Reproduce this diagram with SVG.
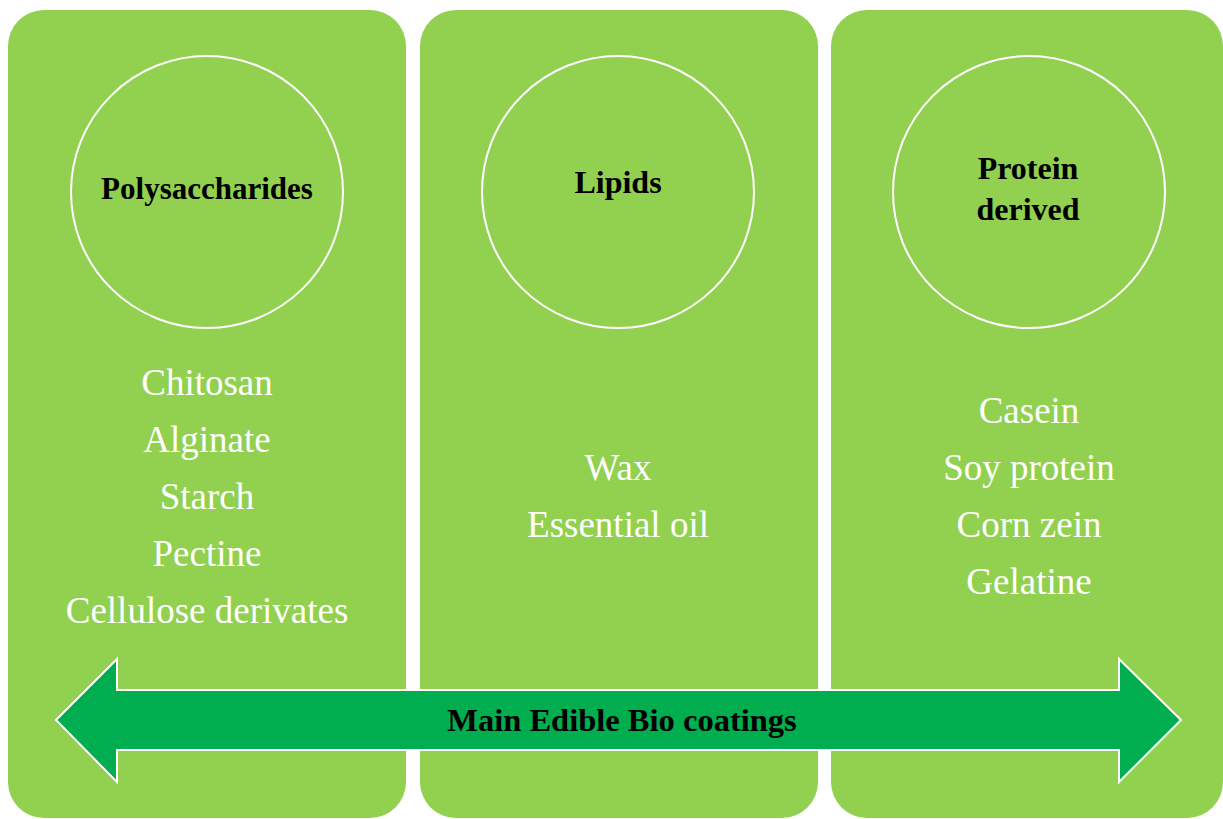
<svg xmlns="http://www.w3.org/2000/svg" width="1223" height="819" viewBox="0 0 1223 819">
<style>
.panel{fill:#92D050}
.circ{fill:none;stroke:#fff;stroke-width:2}
.head{font-family:"Liberation Serif",serif;font-weight:bold;font-size:32px;fill:#000;text-anchor:middle}
.item{font-family:"Liberation Serif",serif;font-size:37px;fill:#fff;text-anchor:middle}
.arrow{fill:#00AE4F;stroke:#fff;stroke-width:2}
</style>
<rect width="1223" height="819" fill="#fff"/>
<g id="polysaccharides">
<rect class="panel" x="8" y="10" width="398" height="808" rx="36"/>
<circle class="circ" cx="207" cy="192" r="136"/>
<text class="head" x="207" y="199" style="font-size:31px">Polysaccharides</text>
<text class="item" x="207" y="395">Chitosan</text>
<text class="item" x="207" y="452">Alginate</text>
<text class="item" x="207" y="509">Starch</text>
<text class="item" x="207" y="566">Pectine</text>
<text class="item" x="207" y="623">Cellulose derivates</text>
</g>
<g id="lipids">
<rect class="panel" x="420" y="10" width="398" height="808" rx="36"/>
<circle class="circ" cx="618" cy="192" r="136"/>
<text class="head" x="618" y="193">Lipids</text>
<text class="item" x="618" y="480">Wax</text>
<text class="item" x="618" y="537">Essential oil</text>
</g>
<g id="protein">
<rect class="panel" x="831" y="10" width="392" height="808" rx="36"/>
<circle class="circ" cx="1029" cy="192" r="136"/>
<text class="head" x="1028" y="179">Protein</text>
<text class="head" x="1028" y="220">derived</text>
<text class="item" x="1029" y="423">Casein</text>
<text class="item" x="1029" y="480">Soy protein</text>
<text class="item" x="1029" y="537">Corn zein</text>
<text class="item" x="1029" y="594">Gelatine</text>
</g>
<g id="connectors">
<g id="main-arrow">
<polygon class="arrow" points="56,720 117,659 117,690 1119,690 1119,659 1181,720 1119,782 1119,750 117,750 117,782"/>
<text class="head" x="622" y="731" style="font-size:32.5px">Main Edible Bio coatings</text>
</g>
</g>
</svg>
